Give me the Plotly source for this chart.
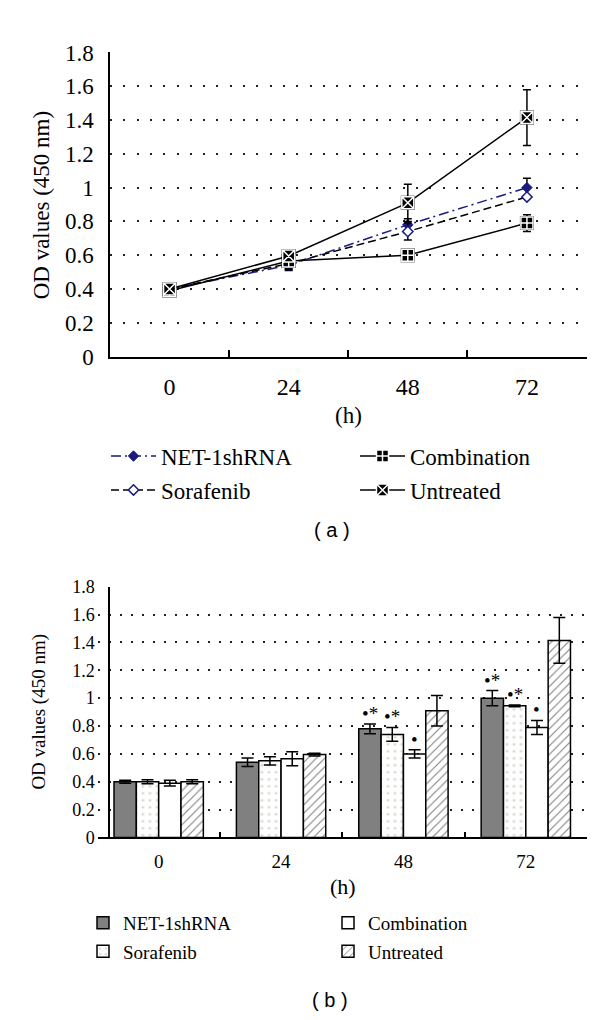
import plotly.graph_objects as go

# ---------------- data ----------------
hours = ["0", "24", "48", "72"]
y_ticks = [0, 0.2, 0.4, 0.6, 0.8, 1.0, 1.2, 1.4, 1.6, 1.8]
y_tick_text = ["0", "0.2", "0.4", "0.6", "0.8", "1", "1.2", "1.4", "1.6", "1.8"]

series_names = ["NET-1shRNA", "Sorafenib", "Combination", "Untreated"]
net_vals = [0.40, 0.54, 0.78, 1.00]
net_err = [0.01, 0.03, 0.035, 0.055]
sor_vals = [0.40, 0.55, 0.74, 0.945]
sor_err = [0.015, 0.03, 0.05, 0.006]
comb_vals = [0.39, 0.565, 0.60, 0.79]
comb_err = [0.02, 0.05, 0.03, 0.05]
untr_vals = [0.40, 0.595, 0.91, 1.415]
untr_err = [0.015, 0.01, 0.11, 0.165]

net_sig = ["", "", "•*", "•*"]
sor_sig = ["", "", "•*", "•*"]
comb_sig = ["", "", "•", "•"]
untr_sig = ["", "", "", ""]

W, H = 600, 1020
SERIF = "Liberation Serif"
SANS = "Liberation Sans"
NAVY = "#1a1a80"

def px(x):
    return x / W

def py(y):
    return 1 - y / H

fig = go.Figure()

# ---------------- panel (a): lines ----------------
err_style = dict(type="data", visible=True, color="black", thickness=1.5, width=4)

fig.add_trace(go.Scatter(
    x=hours, y=net_vals, name=series_names[0], mode="lines+markers",
    line=dict(color=NAVY, width=1.5, dash="10px,4px,2px,4px"),
    marker=dict(symbol="diamond", size=8, color=NAVY, line=dict(color=NAVY, width=1)),
    error_y=dict(array=net_err, **err_style),
    xaxis="x", yaxis="y", legend="legend", legendgroup="a1"))
fig.add_trace(go.Scatter(
    x=hours, y=sor_vals, name=series_names[1], mode="lines+markers",
    line=dict(color="black", width=1.5, dash="8px,4px"),
    marker=dict(symbol="diamond", size=8, color="white", line=dict(color=NAVY, width=1.5)),
    error_y=dict(array=sor_err, **err_style),
    xaxis="x", yaxis="y", legend="legend", legendgroup="a2"))
for vals in (comb_vals, untr_vals):
    fig.add_trace(go.Scatter(
        x=hours, y=vals, mode="markers", showlegend=False, hoverinfo="skip",
        marker=dict(symbol="square", size=14, color="black"),
        xaxis="x", yaxis="y"))
fig.add_trace(go.Scatter(
    x=hours, y=comb_vals, name=series_names[2], mode="lines+markers",
    line=dict(color="black", width=1.5),
    marker=dict(symbol="square-cross", size=12, color="black", line=dict(color="white", width=1.5)),
    error_y=dict(array=comb_err, **err_style),
    xaxis="x", yaxis="y", legend="legend2", legendgroup="a3"))
fig.add_trace(go.Scatter(
    x=hours, y=untr_vals, name=series_names[3], mode="lines+markers",
    line=dict(color="black", width=1.5),
    marker=dict(symbol="square-x", size=12, color="black", line=dict(color="white", width=1.5)),
    error_y=dict(array=untr_err, **err_style),
    xaxis="x", yaxis="y", legend="legend2", legendgroup="a4"))

# ---------------- panel (b): bars ----------------
bar_err = dict(type="data", visible=True, color="black", thickness=1.5, width=6)
bar_line = dict(color="black", width=1.5)
fig.add_trace(go.Bar(
    x=hours, y=net_vals, name=series_names[0],
    marker=dict(color="#808080", line=bar_line),
    error_y=dict(array=net_err, **bar_err),
    xaxis="x2", yaxis="y2", legend="legend3", legendgroup="b1"))
fig.add_trace(go.Bar(
    x=hours, y=sor_vals, name=series_names[1],
    marker=dict(color="white", line=bar_line,
                pattern=dict(shape=".", fgcolor="#a8ad98", bgcolor="white", size=7, solidity=0.12)),
    error_y=dict(array=sor_err, **bar_err),
    xaxis="x2", yaxis="y2", legend="legend3", legendgroup="b2"))
fig.add_trace(go.Bar(
    x=hours, y=comb_vals, name=series_names[2],
    marker=dict(color="white", line=bar_line),
    error_y=dict(array=comb_err, **bar_err),
    xaxis="x2", yaxis="y2", legend="legend4", legendgroup="b3"))
fig.add_trace(go.Bar(
    x=hours, y=untr_vals, name=series_names[3],
    marker=dict(color="white", line=bar_line,
                pattern=dict(shape="/", fgcolor="black", bgcolor="white", size=6, solidity=0.18)),
    error_y=dict(array=untr_err, **bar_err),
    xaxis="x2", yaxis="y2", legend="legend4", legendgroup="b4"))

BARGAP = 0.27
bar_w = (1 - BARGAP) / 4
annotations = []
for i, (vals, errs, sigs) in enumerate([(net_vals, net_err, net_sig), (sor_vals, sor_err, sor_sig),
                                        (comb_vals, comb_err, comb_sig), (untr_vals, untr_err, untr_sig)]):
    for k in range(len(hours)):
        if sigs[k]:
            annotations.append(dict(
                x=k + (i - 1.5) * bar_w, y=vals[k] + errs[k], xref="x2", yref="y2",
                text=sigs[k], showarrow=False, yanchor="bottom", xanchor="center",
                font=dict(family=SERIF, size=19, color="black"), yshift=-2))

def label(x, y, text, family, size, angle=0):
    return dict(x=px(x), y=py(y), xref="paper", yref="paper", text=text, textangle=angle,
                xanchor="center", yanchor="middle", showarrow=False,
                font=dict(family=family, size=size, color="black"))

annotations += [
    label(33, 190, "OD values (450 nm)", SERIF, 23, -90),
    label(340, 405, "(h)", SERIF, 23),
    label(324, 523, "( a )", SANS, 20),
    label(31, 709, "OD values (450 nm)", SERIF, 19, -90),
    label(335, 888, "(h)", SERIF, 22),
    label(322, 1005, "( b )", SANS, 20),
]

def yaxis_cfg(domain, size, dash):
    return dict(domain=domain, range=[0, 1.8], tickvals=y_ticks, ticktext=y_tick_text,
                showgrid=True, gridcolor="#222222", gridwidth=1.5, griddash=dash,
                zeroline=False, showline=True, linecolor="black", linewidth=1.5,
                ticks="", ticklabelstandoff=10,
                tickfont=dict(family=SERIF, size=size, color="black"))

def xaxis_cfg(domain, anchor, size, ticklen, standoff):
    return dict(domain=domain, anchor=anchor, type="category", range=[-0.5, 3.5],
                showgrid=False, zeroline=False, showline=True, linecolor="black", linewidth=1.5,
                ticks="inside", tickson="boundaries", ticklen=ticklen, tickwidth=1.5,
                tickcolor="black", ticklabelstandoff=standoff,
                tickfont=dict(family=SERIF, size=size, color="black"))

def legend_cfg(x, y, size, iw):
    return dict(x=px(x), y=py(y), xanchor="left", yanchor="top", orientation="v",
                bgcolor="rgba(0,0,0,0)", borderwidth=0, itemwidth=iw, tracegroupgap=1,
                font=dict(family=SERIF, size=size, color="black"))

fig.update_layout(
    width=W, height=H, margin=dict(l=0, r=0, t=0, b=0),
    paper_bgcolor="white", plot_bgcolor="white",
    barmode="group", bargap=BARGAP, bargroupgap=0,
    showlegend=True,
    xaxis=xaxis_cfg([px(102), px(578.5)], "y", 24, 7, 8),
    yaxis=yaxis_cfg([py(345), py(33.3)], 23, "2px,11.3px"),
    xaxis2=xaxis_cfg([px(89.5), px(579)], "y2", 19, 6, 6),
    yaxis2=yaxis_cfg([py(838), py(581)], 18, "2px,9px"),
    legend=legend_cfg(98, 425, 23, 45),
    legend2=legend_cfg(347, 425, 23, 45),
    legend3=legend_cfg(75, 906, 19, 30),
    legend4=legend_cfg(320, 906, 19, 30),
    annotations=annotations,
)

fig.write_html("out.html")
